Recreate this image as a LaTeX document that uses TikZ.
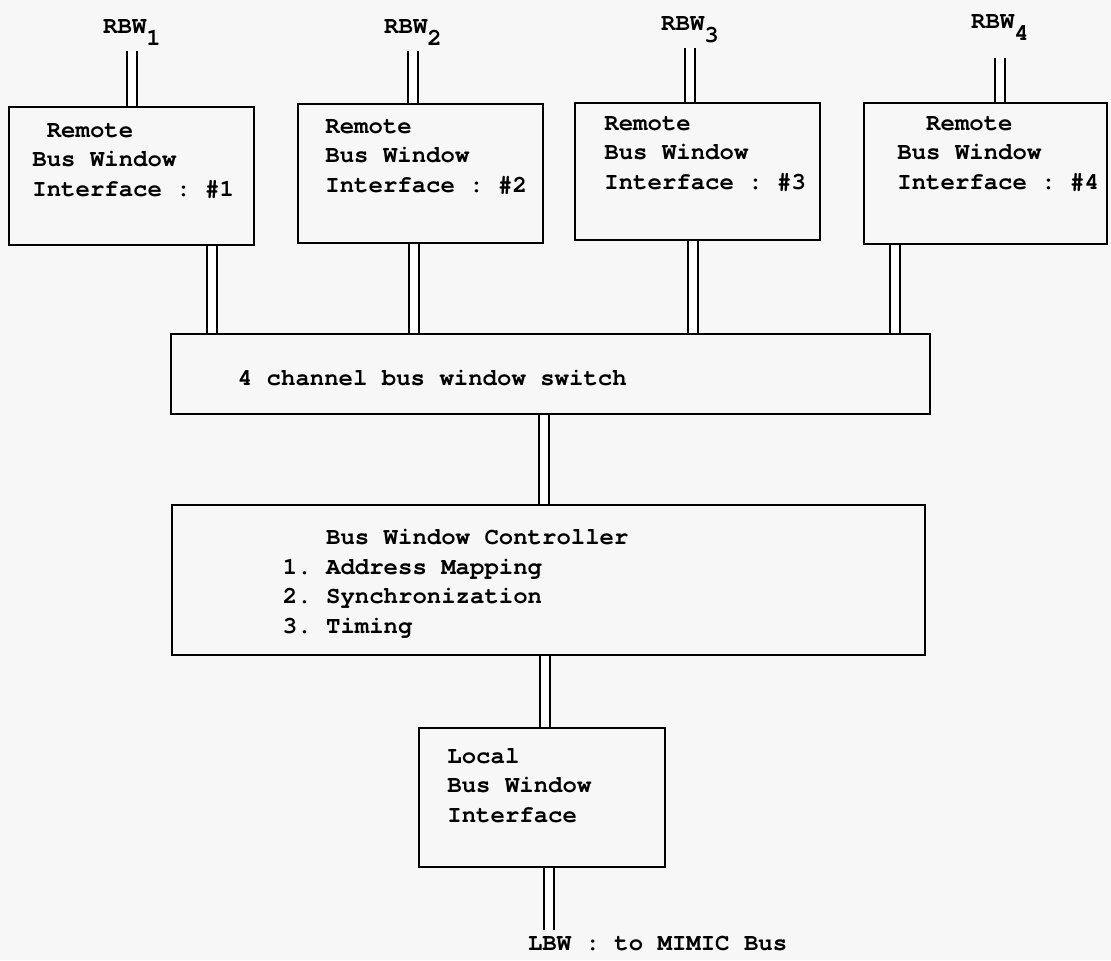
\documentclass[tikz,border=0pt]{standalone}
\usepackage{fontspec}
\setmonofont{TeX Gyre Cursor}
\newcommand{\lo}[1]{\raisebox{-6pt}{#1}}
\tikzstyle{unit}=[draw, rectangle, line width=1.4pt, inner sep=0pt]
\tikzstyle{bus}=[double, double distance=4pt, line width=0.9pt]
\tikzstyle{txt}=[inner sep=0pt, align=left, font=\ttfamily\bfseries\fontsize{12}{14.75}\selectfont]
\tikzstyle{lbl}=[txt, outer sep=3pt]

\begin{document}
\begin{tikzpicture}[x=0.5pt, y=-0.5pt]
\useasboundingbox (0,0) rectangle (1111,960);
\fill[black!3] (0,0) rectangle (1111,960);
% remote bus window interfaces
\node[unit, minimum width=122.5pt, minimum height=69pt] at (131.5,176) (r1) {};
\node[unit, minimum width=122.5pt, minimum height=69.5pt] at (420.5,173.5) (r2) {};
\node[unit, minimum width=122.5pt, minimum height=68.5pt] at (697.5,171.5) (r3) {};
\node[unit, minimum width=121.5pt, minimum height=70.5pt] at (985.5,173.5) (r4) {};
% base = last line
\node[txt, anchor=base west] at (32,196) (t1) {\hphantom{R}Remote\\Bus Window\\Interface : \#1};
\node[txt, anchor=base west] at (325,192) (t2) {Remote\\Bus Window\\Interface : \#2};
\node[txt, anchor=base west] at (604,189) (t3) {Remote\\Bus Window\\Interface : \#3};
\node[txt, anchor=base west] at (897,189) (t4) {\hphantom{RR}Remote\\Bus Window\\Interface : \#4};
\node[lbl, anchor=base] at (132,33) (w1) {RBW\lo{1}};
\node[lbl, anchor=base] at (413,33) (w2) {RBW\lo{2}};
\node[lbl, anchor=base] at (690,30) (w3) {RBW\lo{3}};
\node[lbl, anchor=base] at (1000,28) (w4) {RBW\lo{4}};
% switch, controller, local interface
\node[unit, minimum width=379.5pt, minimum height=40pt] at (550.5,374) (sw) {};
\node[txt, anchor=base west] at (237.5,385) (tsw) {4 channel bus window switch};
\node[unit, minimum width=376.5pt, minimum height=75pt] at (548.5,580) (ctl) {};
\node[txt, anchor=base west] at (282.5,633) (tctl) {\hphantom{1.~}Bus Window Controller\\1. Address Mapping\\2. Synchronization\\3. Timing};
\node[unit, minimum width=123pt, minimum height=69.5pt] at (542,797.5) (loc) {};
\node[txt, anchor=base west] at (447,822) (tloc) {Local\\Bus Window\\Interface};
\node[lbl, anchor=base west] at (522,950) (lbw) {LBW : to MIMIC Bus};
% bus drops
\coordinate (d1) at (212,0);
\coordinate (d2) at (414,0);
\coordinate (d3) at (693,0);
\coordinate (d4) at (895,0);
\coordinate (dc) at (544,0);
\coordinate (dl) at (545,0);
\coordinate (dm) at (549,0);
\draw[bus] (w1.south) -- (w1.south |- r1.north);
\draw[bus] (w2.south) -- (w2.south |- r2.north);
\draw[bus] (w3.south) -- (w3.south |- r3.north);
\draw[bus, shorten <=6pt] (w4.south) -- (w4.south |- r4.north);
\draw[bus] (r1.south -| d1) -- (sw.north -| d1);
\draw[bus] (r2.south -| d2) -- (sw.north -| d2);
\draw[bus] (r3.south -| d3) -- (sw.north -| d3);
\draw[bus] (r4.south -| d4) -- (sw.north -| d4);
\draw[bus] (sw.south -| dc) -- (ctl.north -| dc);
\draw[bus] (ctl.south -| dl) -- (loc.north -| dl);
\draw[bus] (loc.south -| dm) -- (lbw.north -| dm);
\end{tikzpicture}
\end{document}
